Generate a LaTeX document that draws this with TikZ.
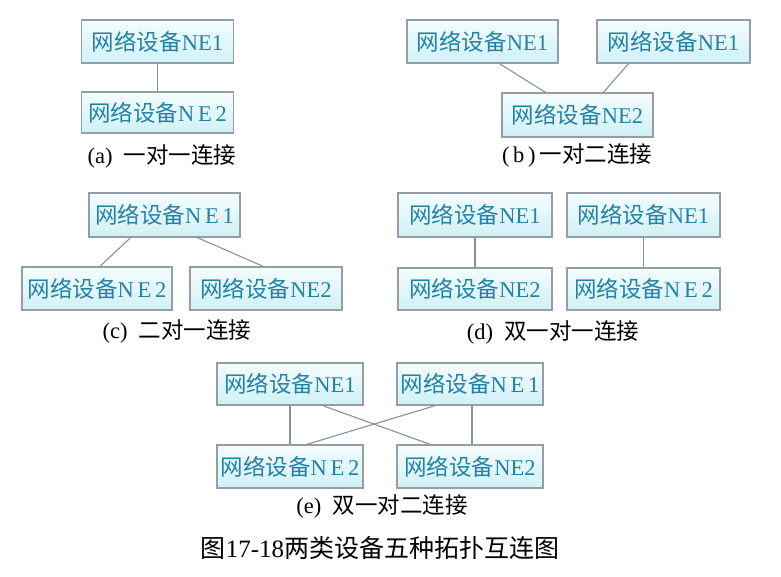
\documentclass[tikz,border=0pt]{standalone}
\usepackage{fontspec}
\setmainfont{Liberation Serif}
\newfontfamily\cjk{Noto Sans CJK SC}
\usetikzlibrary{calc}
\definecolor{txtc}{RGB}{35,130,165}
\definecolor{brd}{RGB}{150,158,165}
\definecolor{lnc}{RGB}{135,145,152}
\definecolor{fillbot}{RGB}{208,241,247}
\definecolor{filltop}{RGB}{244,252,253}
\newcommand{\wl}{{\cjk 网络设备}}
\tikzset{
  box/.style={draw=brd, line width=1.4pt, top color=filltop, bottom color=fillbot,
    text=txtc, font=\fontsize{22.5}{25}\selectfont, inner sep=0pt,
    minimum width=152pt, minimum height=43pt},
  link/.style={draw=lnc, line width=1.1pt},
  captxt/.style={font=\fontsize{22.5}{25}\selectfont, text=black},
}
\begin{document}
\begin{tikzpicture}[x=1pt,y=-1pt]
\useasboundingbox (0,0) rectangle (781,577);
% (a)
\node[box] (a1) at (157.5,41.5) {\wl NE1};
\node[box, minimum height=41pt] (a2) at (157.5,112.5) {\wl N\,E\,2};
\draw[link] (a1.south) -- (a2.north);
\node[captxt] (ca) at (162,156) {(a)\ \ {\cjk 一对一连接}};
% (b)
\node[box, minimum width=151pt] (b1) at (482.5,41.5) {\wl NE1};
\node[box, minimum width=153pt] (b2) at (673.5,41.5) {\wl NE1};
\node[box, minimum width=151pt, minimum height=44pt] (b3) at (577.5,115) {\wl NE2};
\draw[link] ($(b1.south)+(17,0)$) -- ($(b3.north)+(-32,0)$);
\draw[link] ($(b2.south)+(-45,0)$) -- ($(b3.north)+(26,0)$);
\node[captxt] (cb) at (577,155) {({\,}b{\,})\,{\cjk 一对二连接}};
% (c)
\node[box, minimum width=151pt, minimum height=44pt] (c1) at (164.5,215) {\wl N\,E\,1};
\node[box, minimum width=150pt] (c2) at (97,288.5) {\wl N\,E\,2};
\node[box, minimum width=152pt] (c3) at (266,288.5) {\wl NE2};
\draw[link] ($(c1.south)+(-34,0)$) -- ($(c2.north)+(3,0)$);
\draw[link] ($(c1.south)+(33,0)$) -- ($(c3.north)+(-3,0)$);
\node[captxt] (cc) at (177,331) {(c)\ \ {\cjk 二对一连接}};
% (d)
\node[box, minimum width=154pt, minimum height=44pt] (d1) at (475,215) {\wl NE1};
\node[box, minimum width=153pt, minimum height=44pt] (d2) at (643.5,215) {\wl NE1};
\node[box, minimum width=154pt, minimum height=42pt] (d3) at (475,289) {\wl NE2};
\node[box, minimum width=153pt, minimum height=42pt] (d4) at (643.5,289) {\wl N\,E\,2};
\draw[link] (d1.south) -- (d3.north);
\draw[link] (d2.south) -- (d4.north);
\node[captxt] (cd) at (553,332) {(d)\ \ {\cjk 双一对一连接}};
% (e)
\node[box, minimum width=146pt, minimum height=42pt] (e1) at (290,384) {\wl NE1};
\node[box, minimum width=146pt, minimum height=42pt] (e2) at (470,384) {\wl N\,E\,1};
\node[box, minimum width=146pt, minimum height=43pt] (e3) at (290,466.5) {\wl N\,E\,2};
\node[box, minimum width=146pt, minimum height=43pt] (e4) at (470,466.5) {\wl NE2};
\draw[link] (e1.south) -- (e3.north);
\draw[link] ($(e2.south)+(2,0)$) -- ($(e4.north)+(2,0)$);
\draw[link] ($(e1.south)+(33,0)$) -- ($(e4.north)+(-40,0)$);
\draw[link] ($(e2.south)+(-35,0)$) -- ($(e3.north)+(17,0)$);
\node[captxt] (ce) at (382,506) {(e)\ \ {\cjk 双一对二连接}};
% title
\node[font=\fontsize{25}{28}\selectfont] (title) at (380,548) {{\cjk 图}17-18{\cjk 两类设备五种拓扑互连图}};
\end{tikzpicture}
\end{document}
